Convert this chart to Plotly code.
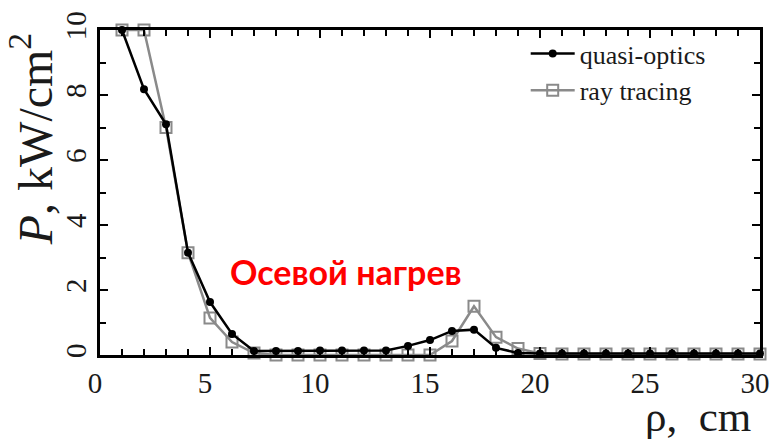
import plotly.graph_objects as go

rho = list(range(1, 31))
quasi_optics = [10.0, 8.18, 7.1, 3.15, 1.63, 0.65, 0.12, 0.12, 0.12, 0.14, 0.14, 0.14, 0.14, 0.28,
                0.46, 0.74, 0.78, 0.22, 0.06, 0.05, 0.05, 0.05, 0.05, 0.05, 0.05, 0.05, 0.05,
                0.05, 0.05, 0.05]
ray_tracing = [10.0, 10.0, 7.0, 3.15, 1.14, 0.4, 0.06, 0.0, 0.0, 0.0, 0.0, 0.0, 0.0, 0.0,
               0.0, 0.43, 1.5, 0.55, 0.2, 0.05, 0.03, 0.03, 0.03, 0.03, 0.03, 0.03, 0.03,
               0.03, 0.03, 0.03]

x_ticks = [0, 5, 10, 15, 20, 25, 30]
y_ticks = [0, 2, 4, 6, 8, 10]

serif = "Liberation Serif"
ink = "#1a1a1a"

fig = go.Figure()
fig.add_trace(go.Scatter(
    x=rho, y=ray_tracing, name="ray tracing", mode="lines+markers",
    line=dict(color="#8a8a8a", width=2.5),
    marker=dict(symbol="square-open", size=11, color="#8a8a8a", line=dict(width=2)),
    cliponaxis=False,
))
fig.add_trace(go.Scatter(
    x=rho, y=quasi_optics, name="quasi-optics", mode="lines+markers",
    line=dict(color="black", width=2.5),
    marker=dict(symbol="circle", size=8, color="black"),
    cliponaxis=False,
))

axis_common = dict(
    showline=True, linecolor="black", linewidth=2.5, mirror="ticks",
    ticks="inside", tickcolor="black", tickwidth=2, ticklen=8,
    showgrid=False, zeroline=False,
    tickfont=dict(family=serif, size=29, color=ink),
    automargin=False,
)

fig.update_xaxes(
    range=[0, 30], tickvals=x_ticks, ticktext=[str(v) for v in x_ticks],
    ticklabelshift=-5,
    minor=dict(dtick=1, ticks="inside", ticklen=6, tickwidth=2, tickcolor="black"),
    **axis_common,
)
fig.update_yaxes(
    range=[0, 10], tickvals=y_ticks, ticktext=[str(v) for v in y_ticks],
    tickangle=-90,
    minor=dict(dtick=1, ticks="inside", ticklen=6, tickwidth=2, tickcolor="black"),
    **axis_common,
)

fig.add_annotation(
    text="<i>P</i>, kW/cm<sup>2</sup>", textangle=-90,
    xref="paper", yref="paper", x=-0.104, y=0.665, xanchor="center", yanchor="middle",
    showarrow=False, font=dict(family=serif, size=48, color=ink),
)
fig.add_annotation(
    text="ρ,  cm",
    xref="paper", yref="paper", x=0.99, y=-0.112, xanchor="right", yanchor="top",
    showarrow=False, font=dict(family=serif, size=43, color=ink),
)
fig.add_annotation(
    text="<b>Осевой нагрев</b>",
    xref="x", yref="y", x=11.2, y=2.58, xanchor="center", yanchor="middle",
    showarrow=False, font=dict(family="Lato", size=34, color="#ff0000"),
)

fig.update_layout(
    width=771, height=439,
    margin=dict(l=100, r=11, t=30, b=84, autoexpand=False),
    paper_bgcolor="white", plot_bgcolor="white",
    showlegend=True,
    legend=dict(
        x=0.645, y=1.0, xanchor="left", yanchor="top",
        bgcolor="rgba(0,0,0,0)", traceorder="reversed",
        font=dict(family=serif, size=26, color=ink),
        itemwidth=44, tracegroupgap=0,
    ),
)

fig.write_html("out.html")
